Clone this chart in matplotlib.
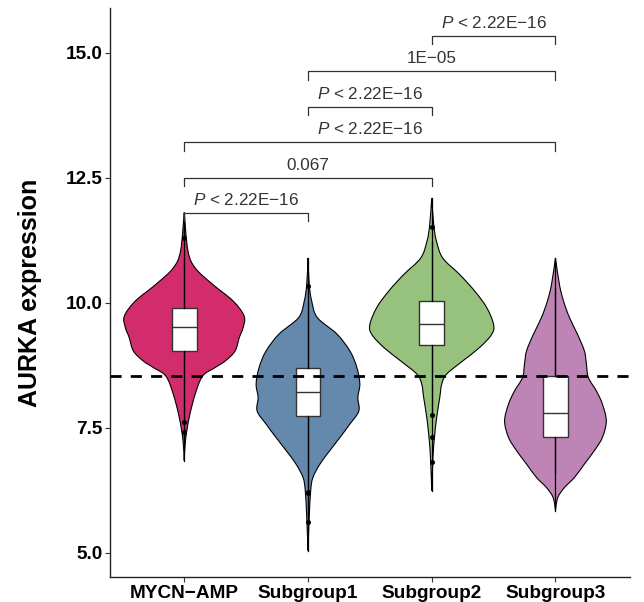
import numpy as np
import matplotlib
matplotlib.use("Agg")
import matplotlib.pyplot as plt
from matplotlib.path import Path
from matplotlib.patches import PathPatch

plt.rcParams['font.family'] = ['Liberation Sans', 'DejaVu Sans']
plt.rcParams['mathtext.fontset'] = 'custom'
plt.rcParams['mathtext.it'] = 'Liberation Sans:italic'
plt.rcParams['mathtext.rm'] = 'Liberation Sans'

#######################
#
# Data

groups = ['MYCN\u2212AMP', 'Subgroup1', 'Subgroup2', 'Subgroup3']
colors = ['#D32C6C', '#6589AD', '#96C27E', '#BE84B5']

# violin outlines: expression value and half width (x units)
mycn_y  = [11.80, 11.03, 10.69, 10.37, 10.03, 9.73, 9.50, 9.30, 9.03, 8.83, 8.70, 8.53, 8.17, 7.70, 7.24, 6.84]
mycn_w  = [0.000, 0.030, 0.089, 0.226, 0.395, 0.484, 0.476, 0.445, 0.411, 0.331, 0.250, 0.149, 0.089, 0.040, 0.010, 0.000]
sub1_y  = [10.89, 10.36, 10.03, 9.70, 9.37, 9.03, 8.70, 8.37, 8.10, 7.83, 7.57, 7.30, 7.04, 6.77, 6.50, 6.24, 5.70, 5.04]
sub1_w  = [0.000, 0.010, 0.030, 0.075, 0.234, 0.339, 0.395, 0.419, 0.403, 0.411, 0.339, 0.258, 0.177, 0.097, 0.040, 0.022, 0.010, 0.000]
sub2_y  = [12.09, 11.56, 11.23, 10.89, 10.56, 10.23, 9.90, 9.56, 9.36, 9.10, 8.83, 8.57, 8.37, 8.10, 7.70, 7.30, 6.90, 6.24]
sub2_w  = [0.000, 0.016, 0.038, 0.089, 0.226, 0.347, 0.444, 0.500, 0.484, 0.387, 0.250, 0.121, 0.081, 0.065, 0.040, 0.022, 0.010, 0.000]
sub3_y  = [10.89, 10.36, 10.03, 9.70, 9.37, 9.03, 8.77, 8.50, 8.23, 7.97, 7.63, 7.30, 7.04, 6.77, 6.50, 6.30, 6.10, 5.84]
sub3_w  = [0.000, 0.032, 0.065, 0.113, 0.177, 0.234, 0.250, 0.266, 0.331, 0.379, 0.411, 0.379, 0.315, 0.234, 0.153, 0.073, 0.019, 0.000]

# box stats: whislo, q1, med, q3, whishi
box_stats = [
    [7.70, 9.03, 9.52, 9.90, 10.89],
    [6.30, 7.74, 8.21, 8.70, 10.01],
    [7.80, 9.15, 9.57, 10.04, 11.21],
    [6.60, 7.32, 7.79, 8.53, 10.30],
]
outliers = [
    [11.29, 7.62, 7.42],
    [10.33, 6.22, 6.19, 5.62],
    [11.51, 7.75, 7.32, 6.82],
    [],
]

cutoff = 8.53

# significance brackets: (group i, group j, height, label)
comparisons = [
    (1, 2, 11.80, 'p'),
    (1, 3, 12.50, '0.067'),
    (1, 4, 13.21, 'p'),
    (2, 3, 13.92, 'p'),
    (2, 4, 14.63, '1E\u221205'),
    (3, 4, 15.34, 'p'),
]
plabel = r'$\mathit{P}$' + ' < 2.22E\u221216'

violins = [(mycn_y, mycn_w), (sub1_y, sub1_w), (sub2_y, sub2_w), (sub3_y, sub3_w)]


def smooth_side(px, py):
    # catmull-rom through the outline points, as bezier segments
    pts = np.column_stack([px, py])
    ext = np.vstack([pts[0], pts, pts[-1]])
    verts = [pts[0]]
    codes = []
    for k in range(len(pts) - 1):
        p0, p1, p2, p3 = ext[k], ext[k + 1], ext[k + 2], ext[k + 3]
        verts += [p1 + (p2 - p0) / 6.0, p2 - (p3 - p1) / 6.0, p2]
        codes += [Path.CURVE4] * 3
    return verts, codes


#######################
#
# Plot

fig = plt.figure(figsize=(6.44, 6.02), dpi=100)
ax = fig.add_axes([0.1708, 0.0415, 0.807, 0.9452])

positions = np.arange(1, len(groups) + 1)

for pos, (vy, vw), col in zip(positions, violins, colors):
    vy = np.array(vy)
    vw = np.array(vw)
    rv, rc = smooth_side(pos + vw, vy)
    lv, lc = smooth_side(pos - vw[::-1], vy[::-1])
    verts = rv + lv[1:] + [rv[0]]
    codes = [Path.MOVETO] + rc + lc + [Path.CLOSEPOLY]
    ax.add_patch(PathPatch(Path(verts, codes), facecolor=col, edgecolor='black',
                           linewidth=0.8, zorder=2))
    # thin tails show up as a line
    ax.plot([pos, pos], [vy.min(), vy.max()], color='black', lw=0.9, zorder=3)

bxp = []
for st, fl, g in zip(box_stats, outliers, groups):
    bxp.append(dict(whislo=st[0], q1=st[1], med=st[2], q3=st[3], whishi=st[4],
                    fliers=fl, label=g))
ax.bxp(bxp, positions=positions, widths=0.2, patch_artist=True,
       showcaps=False, zorder=4,
       boxprops=dict(facecolor='white', edgecolor='#333333', linewidth=1.0),
       medianprops=dict(color='#333333', linewidth=1.0),
       whiskerprops=dict(color='black', linewidth=0.9),
       flierprops=dict(marker='o', markersize=2.6, markerfacecolor='black',
                       markeredgecolor='black'))

ax.axhline(cutoff, color='black', lw=2.0, dashes=(4, 3.3), zorder=5)

tick = 0.17
for i, j, h, lab in comparisons:
    ax.plot([i, i, j, j], [h - tick, h, h, h - tick], color='#333333', lw=0.9, zorder=3)
    txt = plabel if lab == 'p' else lab
    ax.text((i + j) / 2, h + 0.1, txt, ha='center', va='bottom', fontsize=12.3,
            color='#333333')

ax.set_xlim(0.4, 4.6)
ax.set_ylim(4.51, 15.89)
ax.set_yticks([5.0, 7.5, 10.0, 12.5, 15.0])
ax.set_yticklabels(['5.0', '7.5', '10.0', '12.5', '15.0'])
ax.set_xticks(positions)
ax.set_xticklabels(groups)
for lbl in ax.get_xticklabels() + ax.get_yticklabels():
    lbl.set_fontweight('bold')
    lbl.set_fontsize(13.7)
    lbl.set_color('black')
ax.tick_params(axis='both', length=3.5, width=0.8, color='#333333', pad=2)
ax.set_ylabel('AURKA expression', fontsize=18, fontweight='bold', labelpad=17)

for s in ['top', 'right']:
    ax.spines[s].set_visible(False)
for s in ['left', 'bottom']:
    ax.spines[s].set_linewidth(1.0)
    ax.spines[s].set_color('#222222')

plt.savefig('out.png', dpi=100)
plt.close()
